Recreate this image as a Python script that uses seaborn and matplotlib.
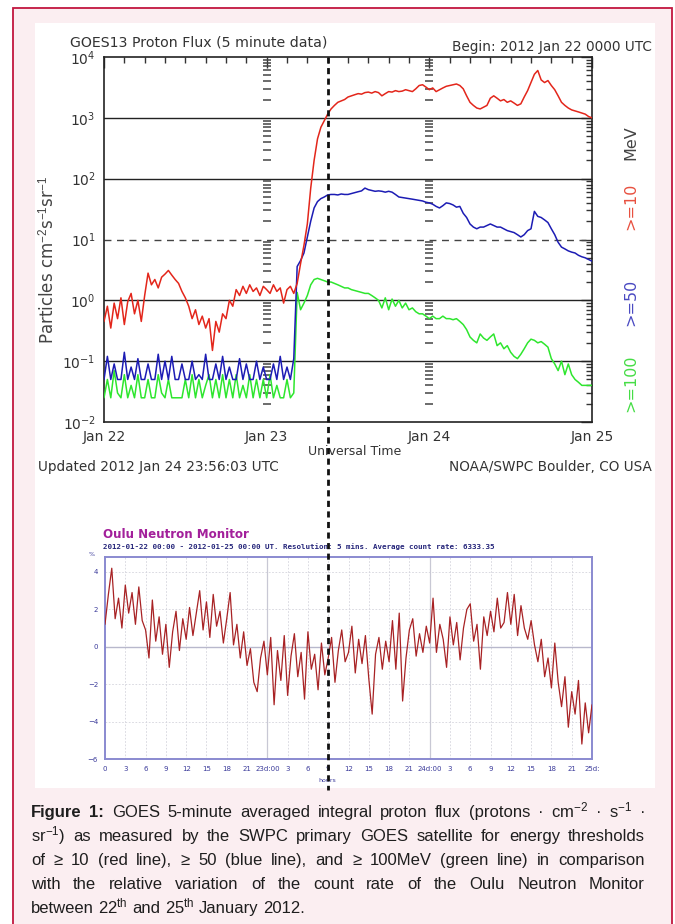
import numpy as np
import pandas as pd
import matplotlib
matplotlib.use("Agg")
import matplotlib.pyplot as plt
import seaborn as sns
from matplotlib import font_manager
from matplotlib.lines import Line2D
from matplotlib.patches import Rectangle
from matplotlib.ticker import MultipleLocator, LogLocator, NullFormatter

# ---- data (half-hour samples from 2012-01-22 00:00 UT) ----
proton_step_h = 0.5
flux_10mev = [
    0.45, 0.8, 0.35, 0.9, 0.5, 1.1, 0.4, 0.95, 1.3, 0.6, 1.0, 0.45,
    1.2, 2.8, 1.8, 2.2, 1.6, 2.4, 2.7, 3.1, 2.6, 2.2, 1.9, 1.4,
    1.1, 0.8, 0.5, 0.7, 0.4, 0.55, 0.35, 0.5, 0.15, 0.45, 0.3, 0.6,
    0.5, 1.0, 0.8, 1.5, 1.2, 1.7, 1.3, 1.8, 1.4, 1.6, 1.2, 1.7,
    1.5, 1.3, 1.8, 1.4, 1.6, 0.9, 1.5, 1.7, 1.3, 1.9, 4.0, 8.0,
    18, 70, 200, 450, 700, 900, 1150, 1400, 1600, 1800, 1900, 2000,
    2200, 2300, 2400, 2500, 2450, 2600, 2650, 2550, 2700, 2600, 2300, 2500,
    2700, 2650, 2800, 2700, 2750, 2900, 2800, 2700, 3000, 3400, 3500, 3200,
    2900, 3100, 2700, 2900, 3100, 3300, 3400, 3500, 3600, 3400, 3000, 2300,
    1800, 1600, 1450, 1400, 1500, 1600, 2100, 2300, 2100, 1900, 2000, 1800,
    1900, 1750, 1600, 1700, 2200, 2800, 3800, 5200, 6000, 4200, 3800, 4100,
    3400, 2900, 2300, 1800, 1600, 1450, 1350, 1300, 1250, 1200, 1150, 1050,
    1000,
]
flux_50mev = [
    0.05, 0.12, 0.05, 0.09, 0.05, 0.05, 0.14, 0.05, 0.08, 0.05, 0.11, 0.05,
    0.05, 0.09, 0.05, 0.05, 0.13, 0.05, 0.10, 0.05, 0.12, 0.05, 0.05, 0.09,
    0.05, 0.05, 0.10, 0.05, 0.06, 0.05, 0.13, 0.05, 0.05, 0.09, 0.05, 0.12,
    0.05, 0.08, 0.05, 0.05, 0.11, 0.05, 0.09, 0.05, 0.05, 0.10, 0.05, 0.08,
    0.05, 0.05, 0.09, 0.05, 0.12, 0.05, 0.08, 0.05, 0.11, 3.6, 4.5, 6.0,
    11, 20, 33, 42, 47, 50, 54, 55, 55, 54, 56, 55,
    55, 57, 59, 61, 63, 70, 66, 64, 62, 63, 62, 60,
    62, 60, 55, 50, 49, 48, 47, 46, 45, 44, 43, 41,
    40, 38, 35, 33, 36, 40, 39, 37, 34, 35, 27, 23,
    18, 16, 15, 16, 16, 17, 18, 17, 16, 16, 15, 14,
    13.5, 13, 12, 11, 12, 14, 15, 29, 24, 23, 21, 19,
    15, 12, 9, 7.5, 7, 6.5, 6.2, 6, 5.5, 5.2, 5, 4.7,
    4.4,
]
flux_100mev = [
    0.025, 0.05, 0.025, 0.07, 0.03, 0.025, 0.06, 0.025, 0.04, 0.025, 0.06, 0.025,
    0.025, 0.05, 0.025, 0.025, 0.06, 0.03, 0.025, 0.05, 0.025, 0.025, 0.025, 0.025,
    0.05, 0.025, 0.06, 0.025, 0.05, 0.025, 0.04, 0.06, 0.025, 0.05, 0.025, 0.06,
    0.025, 0.05, 0.025, 0.06, 0.025, 0.04, 0.025, 0.06, 0.025, 0.05, 0.025, 0.05,
    0.025, 0.06, 0.025, 0.04, 0.025, 0.025, 0.05, 0.025, 0.03, 1.35, 0.7, 0.9,
    1.2, 1.8, 2.2, 2.3, 2.2, 2.1, 2.0, 2.0, 1.9, 1.8, 1.7, 1.6,
    1.6, 1.5, 1.45, 1.4, 1.35, 1.3, 1.3, 1.2, 1.1, 1.0, 0.75, 1.1,
    0.7, 1.05, 0.8, 1.0, 0.75, 0.9, 0.7, 0.75, 0.65, 0.6, 0.6, 0.55,
    0.5, 0.55, 0.5, 0.5, 0.55, 0.5, 0.5, 0.48, 0.5, 0.45, 0.4, 0.33,
    0.25, 0.22, 0.2, 0.28, 0.24, 0.22, 0.25, 0.28, 0.18, 0.2, 0.16, 0.18,
    0.14, 0.12, 0.11, 0.13, 0.16, 0.2, 0.23, 0.22, 0.2, 0.21, 0.19, 0.17,
    0.11, 0.09, 0.07, 0.1, 0.06, 0.09, 0.06, 0.05, 0.045, 0.04, 0.04, 0.04,
    0.04,
]

neutron_step_h = 0.5
neutron_var = [
    1.2, 2.8, 4.2, 1.5, 2.6, 1.0, 3.3, 1.8, 2.9, 1.2, 3.2, 1.4,
    0.9, -0.6, 2.5, 0.3, 1.6, -0.4, 1.2, -1.1, 0.8, 1.9, -0.2, 1.5,
    0.4, 2.1, 0.6, 1.8, 3.0, 0.9, 2.4, 0.5, 2.8, 1.1, 1.9, 0.2,
    1.5, 2.9, 0.1, 1.2, -0.6, 0.8, -1.0, -0.1, -1.9, -2.4, -0.6, 0.3,
    -1.5, 0.5, -3.1, -0.2, -1.8, 0.6, -2.6, -0.5, 0.7, -1.6, -0.3, -2.8,
    0.8, -1.2, -0.4, -2.3, 0.2, -1.5, -0.6, 0.5, -1.9, -0.2, 0.9, -0.8,
    -0.3, 1.1, -1.4, 0.4, -0.9, 0.6, -1.7, -3.6, -0.4, 0.5, -1.2, 0.3,
    -0.8, 1.4, -1.2, 1.8, -2.9, -0.6, 0.9, 1.5, -0.5, 0.7, -0.3, 1.1,
    0.2, 2.6, -0.3, 1.2, 0.4, -1.1, 1.6, 0.1, 1.3, -0.7, 1.0, 2.0,
    2.3, 0.3, 1.2, -1.2, 1.6, 0.6, 1.9, 0.8, 2.6, 1.0, 1.3, 2.9,
    1.2, 2.8, 0.6, 2.2, 1.0, 0.4, 1.4, 0.1, -0.8, 0.4, -1.6, -0.6,
    -2.2, 0.2, -1.9, -3.2, -1.6, -4.3, -2.4, -3.6, -1.8, -5.2, -3.0, -4.6,
    -3.1,
]

event_hour = 33.0  # dashed marker, 2012-01-23 09:00 UT
day_ticks = [0, 24, 48, 72]
day_labels = ["Jan 22", "Jan 23", "Jan 24", "Jan 25"]
hour_ticks = list(range(0, 73, 3))
hour_labels = ["0", "3", "6", "9", "12", "15", "18", "21", "23d:00",
               "3", "6", "9", "12", "15", "18", "21", "24d:00",
               "3", "6", "9", "12", "15", "18", "21", "25d:"]

caption_lines = [
    ["Figure", "1:", "GOES", "5-minute", "averaged", "integral", "proton", "flux",
     "(protons", "\u00b7", "cm$^{-2}$", "\u00b7", "s$^{-1}$", "\u00b7"],
    ["sr$^{-1}$)", "as", "measured", "by", "the", "SWPC", "primary", "GOES",
     "satellite", "for", "energy", "thresholds"],
    ["of", "\u2265", "10", "(red", "line),", "\u2265", "50", "(blue", "line),", "and",
     "\u2265", "100MeV", "(green", "line)", "in", "comparison"],
    ["with", "the", "relative", "variation", "of", "the", "count", "rate", "of",
     "the", "Oulu", "Neutron", "Monitor"],
    ["between", r"22$^{\mathrm{th}}$", "and", r"25$^{\mathrm{th}}$", "January", "2012."],
]
bold_words = {(0, 0), (0, 1)}

# ---- style ----
sns.set_style("white")
names = {f.name for f in font_manager.fontManager.ttflist}
cap_font = "Liberation Sans Narrow" if "Liberation Sans Narrow" in names else "Liberation Sans"
plt.rcParams["font.family"] = ["DejaVu Sans"]
plt.rcParams["mathtext.fontset"] = "custom"
plt.rcParams["mathtext.rm"] = cap_font
plt.rcParams["mathtext.it"] = cap_font + ":italic"
plt.rcParams["mathtext.bf"] = cap_font + ":bold"

W, H = 675, 924
fig = plt.figure(figsize=(W / 100, H / 100), dpi=100)
fig.patch.set_facecolor("white")


def fx(px):
    return px / W


def fy(py):
    return 1 - py / H


# page frame + white picture area
fig.add_artist(Rectangle((fx(13), -0.01), fx(672) - fx(13), fy(8) + 0.01,
                         transform=fig.transFigure, facecolor="#fbeef1",
                         edgecolor="#c2163f", lw=1.3, zorder=-10))
fig.add_artist(Rectangle((fx(35), fy(788)), fx(655) - fx(35), fy(23) - fy(788),
                         transform=fig.transFigure, facecolor="white",
                         edgecolor="none", zorder=-9))

# ---- GOES proton flux ----
goes = pd.DataFrame({
    "hours": np.arange(len(flux_10mev)) * proton_step_h,
    "p10": flux_10mev, "p50": flux_50mev, "p100": flux_100mev,
})
ink = "#333333"
ax1 = fig.add_axes([fx(104), fy(422), fx(592) - fx(104), fy(57) - fy(422)])
ax1.set_yscale("log")
for lvl in [1e-1, 1e0, 1e2, 1e3]:
    ax1.axhline(lvl, color="#222222", lw=1.0, zorder=1.5)
ax1.axhline(1e1, color="#444444", lw=1.0, ls=(0, (5, 4)), zorder=1.5)

col_y = [m * 10.0 ** k for k in range(-2, 4) for m in range(2, 10)]
for day_h in (24, 48):
    ax1.plot([day_h] * len(col_y), col_y, ls="none", marker="_", ms=6, mew=1.1,
             color="#444444", zorder=1.6)

sns.lineplot(data=goes, x="hours", y="p100", ax=ax1, color="#2ee62e", lw=1.1, zorder=3)
sns.lineplot(data=goes, x="hours", y="p50", ax=ax1, color="#1c1cb4", lw=1.1, zorder=3)
sns.lineplot(data=goes, x="hours", y="p10", ax=ax1, color="#e3261b", lw=1.1, zorder=3)

ax1.set_xlim(0, 72)
ax1.set_ylim(1e-2, 1e4)
ax1.set_xticks(day_ticks)
ax1.set_xticklabels(day_labels)
ax1.xaxis.set_minor_locator(MultipleLocator(3))
ax1.yaxis.set_major_locator(LogLocator(base=10, numticks=10))
ax1.yaxis.set_minor_locator(LogLocator(base=10, subs=np.arange(2, 10), numticks=20))
ax1.yaxis.set_minor_formatter(NullFormatter())
ax1.tick_params(which="both", direction="in", top=True, right=True, colors=ink,
                labelsize=10, width=1.0)
ax1.tick_params(which="major", length=8, pad=6)
ax1.tick_params(which="minor", length=4)
ax1.set_xlabel("")
ax1.set_ylabel("")
for sp in ax1.spines.values():
    sp.set_color("#222222")
    sp.set_linewidth(1.2)

fig.text(fx(70), fy(43), "GOES13 Proton Flux (5 minute data)", fontsize=10.2,
         color=ink, va="center")
fig.text(fx(652), fy(47), "Begin: 2012 Jan 22 0000 UTC", fontsize=9.8, color=ink,
         ha="right", va="center")
fig.text(fx(355), fy(451), "Universal Time", fontsize=9, color=ink,
         ha="center", va="center")
fig.text(fx(38), fy(467), "Updated 2012 Jan 24 23:56:03 UTC", fontsize=9.8,
         color=ink, va="center")
fig.text(fx(652), fy(467), "NOAA/SWPC Boulder, CO USA", fontsize=9.8, color=ink,
         ha="right", va="center")
fig.text(fx(47), fy(260), r"Particles cm$^{-2}$s$^{-1}$sr$^{-1}$", fontsize=12,
         color="#444444", rotation=90, ha="center", va="center")
for label, ypx, col in [("MeV", 143, "#444444"), (">=10", 206, "#e8503f"),
                        (">=50", 302, "#4a4ac2"), (">=100", 383, "#45dd45")]:
    fig.text(fx(631), fy(ypx), label, fontsize=11.5, color=col, rotation=90,
             ha="center", va="center")

# ---- Oulu neutron monitor ----
nm = pd.DataFrame({
    "hours": np.arange(len(neutron_var)) * neutron_step_h,
    "variation": neutron_var,
})
ax2 = fig.add_axes([fx(105), fy(759), fx(592) - fx(105), fy(557) - fy(759)])
ax2.set_xlim(0, 72)
ax2.set_ylim(-6, 4.8)
ax2.set_xticks(hour_ticks)
ax2.set_xticklabels(hour_labels)
ax2.set_yticks([-6, -4, -2, 0, 2, 4])
ax2.grid(True, color="#d4d4dc", lw=0.6, ls=(0, (2, 2)))
for h in (24, 48):
    ax2.axvline(h, color="#c8c8d4", lw=0.9, zorder=1)
ax2.axhline(0, color="#b8b8cc", lw=1.0, zorder=1)
sns.lineplot(data=nm, x="hours", y="variation", ax=ax2, color="#a82224", lw=0.9,
             zorder=3)
ax2.set_xlabel("")
ax2.set_ylabel("")
ax2.tick_params(length=0, labelsize=5, colors="#3a3a9a", pad=5)
for sp in ax2.spines.values():
    sp.set_color("#8a8ad0")
    sp.set_linewidth(1.4)

fig.text(fx(103), fy(535), "Oulu Neutron Monitor", fontsize=8.6, fontweight="bold",
         color="#a3209b", va="center")
fig.text(fx(103), fy(547),
         "2012-01-22 00:00 - 2012-01-25 00:00 UT. Resolution: 5 mins. Average count rate: 6333.35",
         fontsize=5.4, family="DejaVu Sans Mono", fontweight="bold",
         color="#25257a", va="center")
fig.text(fx(92), fy(555), "%", fontsize=4.5, color="#3a3a9a", ha="center", va="center")
fig.text(fx(327), fy(781), "hours", fontsize=4.5, color="#3a3a9a", ha="center",
         va="center")

# dashed event line through both panels
x_evt = ax1.transData.transform((event_hour, 1.0))[0] / W
fig.add_artist(Line2D([x_evt, x_evt], [fy(57), fy(790)], transform=fig.transFigure,
                      color="#111111", lw=2.0, ls=(0, (2.2, 1.6)), zorder=20))

# ---- caption, justified ----
renderer = fig.canvas.get_renderer()
cap_left, cap_right = 31, 645
cap_w = cap_right - cap_left
baselines = [817, 841, 865, 889, 913]
fs = 12.0
tokens = []
for i, line in enumerate(caption_lines):
    row = []
    for j, word in enumerate(line):
        t = fig.text(0, 0, word, fontsize=fs, family=[cap_font, "DejaVu Sans"],
                     fontweight="bold" if (i, j) in bold_words else "normal",
                     color="#1e1e1e", va="baseline", ha="left")
        row.append(t)
    tokens.append(row)


def widths(row):
    return [t.get_window_extent(renderer=renderer).width for t in row]


space = 0.27 * fs * 100 / 72
need = max(sum(widths(r)) + (len(r) - 1) * space for r in tokens)
if need > cap_w:
    fs = fs * cap_w / need * 0.995
    for row in tokens:
        for t in row:
            t.set_fontsize(fs)
space = 0.27 * fs * 100 / 72

for i, row in enumerate(tokens):
    ws = widths(row)
    if i < len(tokens) - 1:
        gap = (cap_w - sum(ws)) / (len(row) - 1)
    else:
        gap = space
    x = cap_left
    for t, w in zip(row, ws):
        t.set_position((fx(x), fy(baselines[i])))
        x += w + gap

fig.savefig("out.png", dpi=100)
